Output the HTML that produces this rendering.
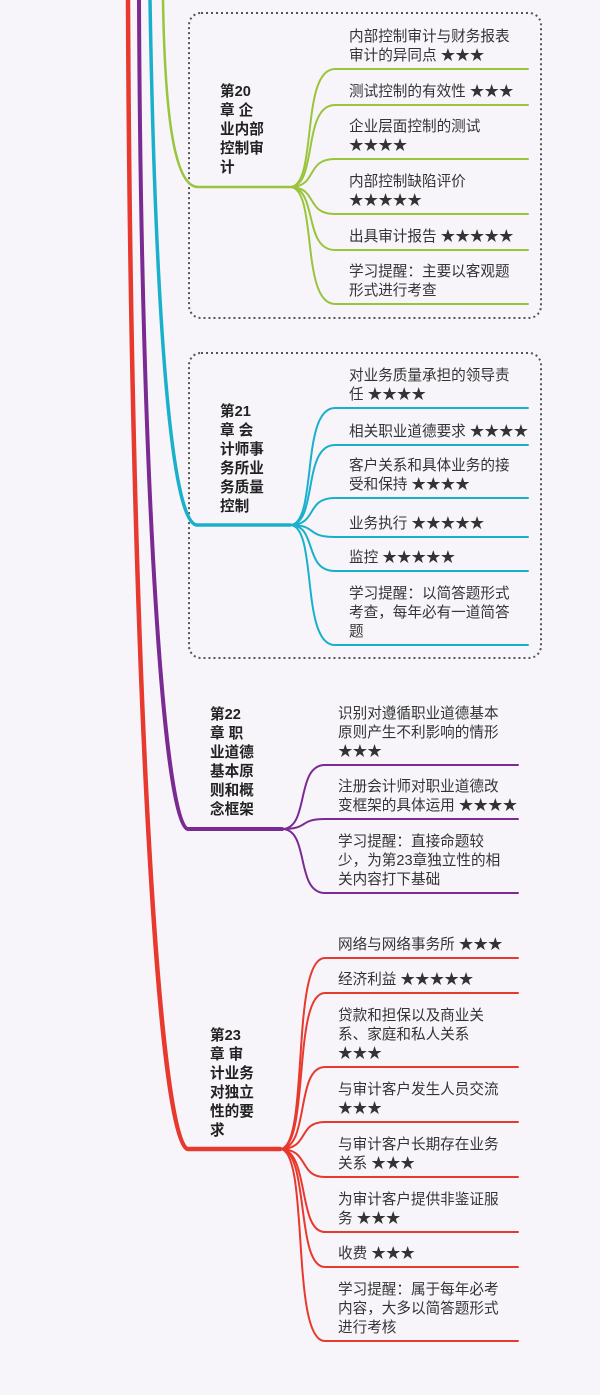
<!DOCTYPE html>
<html><head><meta charset="utf-8"><style>
html,body{margin:0;padding:0;background:#f7f5fa;}
svg{display:block;}
text{font-family:"Liberation Sans","Noto Sans CJK SC",sans-serif;font-size:14.6px;fill:#333;}
.t{font-weight:bold;fill:#222;}
</style></head><body>
<svg width="600" height="1395" viewBox="0 0 600 1395" xmlns="http://www.w3.org/2000/svg">
<rect x="189" y="13" width="352" height="305" rx="12" fill="none" stroke="#555" stroke-width="2" stroke-dasharray="2,3"/>
<rect x="189" y="353" width="352" height="305" rx="12" fill="none" stroke="#555" stroke-width="2" stroke-dasharray="2,3"/>
<g fill="none" stroke-linecap="round">
<path d="M163,0 C165,120 175,187 198,187 L290,187" stroke="#9ac43c" stroke-width="2.5"/>
<path d="M150,0 C155,300 170,525 197,525 L290,525" stroke="#19b0cc" stroke-width="3.5"/>
<path d="M139,0 C141,500 165,829 188,829 L282,829" stroke="#7b2a92" stroke-width="4"/>
<path d="M128,0 C131,700 160,1149 188,1149 L280,1149" stroke="#e8392e" stroke-width="4.5"/>
<g stroke="#9ac43c" stroke-width="2">
<path d="M290,187 C318,187 300,69 335,69 L528,69"/>
<path d="M290,187 C318,187 302,105 335,105 L528,105"/>
<path d="M290,187 C318,187 305,159 335,159 L528,159"/>
<path d="M290,187 C318,187 305,214 335,214 L528,214"/>
<path d="M290,187 C318,187 303,250 335,250 L528,250"/>
<path d="M290,187 C318,187 300,304 335,304 L528,304"/>
</g>
<g stroke="#19b0cc" stroke-width="2">
<path d="M290,525 C318,525 300,408 335,408 L528,408"/>
<path d="M290,525 C318,525 302,445 335,445 L528,445"/>
<path d="M290,525 C318,525 305,498 335,498 L528,498"/>
<path d="M290,525 C318,525 305,537 335,537 L528,537"/>
<path d="M290,525 C318,525 303,571 335,571 L528,571"/>
<path d="M290,525 C318,525 300,645 335,645 L528,645"/>
</g>
<g stroke="#7b2a92" stroke-width="2">
<path d="M282,829 C310,829 295,765 325,765 L518,765"/>
<path d="M282,829 C310,829 298,819 325,819 L518,819"/>
<path d="M282,829 C310,829 295,893 325,893 L518,893"/>
</g>
<g stroke="#e8392e" stroke-width="2">
<path d="M280,1149 C310,1149 290,958 325,958 L518,958"/>
<path d="M280,1149 C310,1149 292,993 325,993 L518,993"/>
<path d="M280,1149 C310,1149 295,1067 325,1067 L518,1067"/>
<path d="M280,1149 C310,1149 297,1122 325,1122 L518,1122"/>
<path d="M280,1149 C310,1149 298,1177 325,1177 L518,1177"/>
<path d="M280,1149 C310,1149 297,1232 325,1232 L518,1232"/>
<path d="M280,1149 C310,1149 295,1267 325,1267 L518,1267"/>
<path d="M280,1149 C310,1149 290,1341 325,1341 L518,1341"/>
</g>
</g>
<g class="t">
<text class="t" x="220" y="96">第20</text><text class="t" x="220" y="115">章 企</text><text class="t" x="220" y="134">业内部</text><text class="t" x="220" y="153">控制审</text><text class="t" x="220" y="172">计</text>
<text class="t" x="220" y="416">第21</text><text class="t" x="220" y="435">章 会</text><text class="t" x="220" y="454">计师事</text><text class="t" x="220" y="473">务所业</text><text class="t" x="220" y="492">务质量</text><text class="t" x="220" y="511">控制</text>
<text class="t" x="210" y="719">第22</text><text class="t" x="210" y="738">章 职</text><text class="t" x="210" y="757">业道德</text><text class="t" x="210" y="776">基本原</text><text class="t" x="210" y="795">则和概</text><text class="t" x="210" y="814">念框架</text>
<text class="t" x="210" y="1040">第23</text><text class="t" x="210" y="1059">章 审</text><text class="t" x="210" y="1078">计业务</text><text class="t" x="210" y="1097">对独立</text><text class="t" x="210" y="1116">性的要</text><text class="t" x="210" y="1135">求</text>
</g>
<text x="349" y="41">内部控制审计与财务报表</text><text x="349" y="60">审计的异同点 ★★★</text>
<text x="349" y="96">测试控制的有效性 ★★★</text>
<text x="349" y="131">企业层面控制的测试</text><text x="349" y="150">★★★★</text>
<text x="349" y="186">内部控制缺陷评价</text><text x="349" y="205">★★★★★</text>
<text x="349" y="241">出具审计报告 ★★★★★</text>
<text x="349" y="276">学习提醒：主要以客观题</text><text x="349" y="295">形式进行考查</text>
<text x="349" y="380">对业务质量承担的领导责</text><text x="349" y="399">任 ★★★★</text>
<text x="349" y="436">相关职业道德要求 ★★★★</text>
<text x="349" y="470">客户关系和具体业务的接</text><text x="349" y="489">受和保持 ★★★★</text>
<text x="349" y="528">业务执行 ★★★★★</text>
<text x="349" y="562">监控 ★★★★★</text>
<text x="349" y="598">学习提醒：以简答题形式</text><text x="349" y="617">考查，每年必有一道简答</text><text x="349" y="636">题</text>
<text x="338" y="718">识别对遵循职业道德基本</text><text x="338" y="737">原则产生不利影响的情形</text><text x="338" y="756">★★★</text>
<text x="338" y="791">注册会计师对职业道德改</text><text x="338" y="810">变框架的具体运用 ★★★★</text>
<text x="338" y="846">学习提醒：直接命题较</text><text x="338" y="865">少，为第23章独立性的相</text><text x="338" y="884">关内容打下基础</text>
<text x="338" y="949">网络与网络事务所 ★★★</text>
<text x="338" y="984">经济利益 ★★★★★</text>
<text x="338" y="1020">贷款和担保以及商业关</text><text x="338" y="1039">系、家庭和私人关系</text><text x="338" y="1058">★★★</text>
<text x="338" y="1094">与审计客户发生人员交流</text><text x="338" y="1113">★★★</text>
<text x="338" y="1149">与审计客户长期存在业务</text><text x="338" y="1168">关系 ★★★</text>
<text x="338" y="1204">为审计客户提供非鉴证服</text><text x="338" y="1223">务 ★★★</text>
<text x="338" y="1258">收费 ★★★</text>
<text x="338" y="1294">学习提醒：属于每年必考</text><text x="338" y="1313">内容，大多以简答题形式</text><text x="338" y="1332">进行考核</text>
</svg>
</body></html>
